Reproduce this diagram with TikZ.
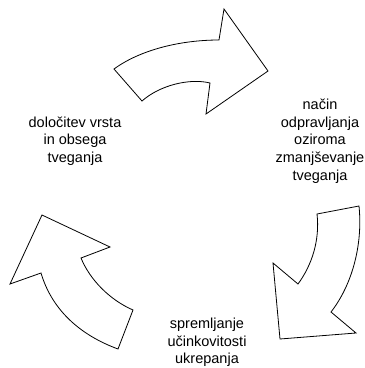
\documentclass[tikz,border=0pt]{standalone}
\usepackage{fontspec}
\setmainfont{Liberation Sans}
\begin{document}
\begin{tikzpicture}[x=1pt, y=-1pt,
  bigarrow/.style={draw, fill=white, line width=0.8pt, line join=miter},
  steptext/.style={align=center, anchor=base, inner sep=0pt,
    font=\fontsize{14.5}{17.7}\selectfont}]
  \useasboundingbox (0,0) rectangle (365,368);

  % top arrow
  \draw[bigarrow] (114,69) .. controls (140,50) and (180,40) .. (219,40)
    -- (224,9) -- (268,71) -- (206,114) -- (210,83)
    .. controls (190,78) and (160,85) .. (142,101) -- cycle;
  % right arrow
  \draw[bigarrow] (359,206) -- (317,214)
    .. controls (320,240) and (312,265) .. (298,284)
    -- (273,263) -- (280,339) -- (356,333) -- (331,312)
    .. controls (352,285) and (363,245) .. cycle;
  % left arrow
  \draw[bigarrow] (118,349) .. controls (80,335) and (52,310) .. (41,273)
    -- (10,284) -- (42,215) -- (110,247) -- (81,258)
    .. controls (90,280) and (110,300) .. (133,310) -- cycle;

  % base = baseline of the last line
  \node[steptext] (risk) at (75,162.4) {določitev vrsta\\in obsega\\tveganja};
  \node[steptext] (treat) at (320,180.3) {način\\odpravljanja\\oziroma\\zmanjševanje\\tveganja};
  \node[steptext] (monitor) at (207,363.9) {spremljanje\\učinkovitosti\\ukrepanja};
\end{tikzpicture}
\end{document}
